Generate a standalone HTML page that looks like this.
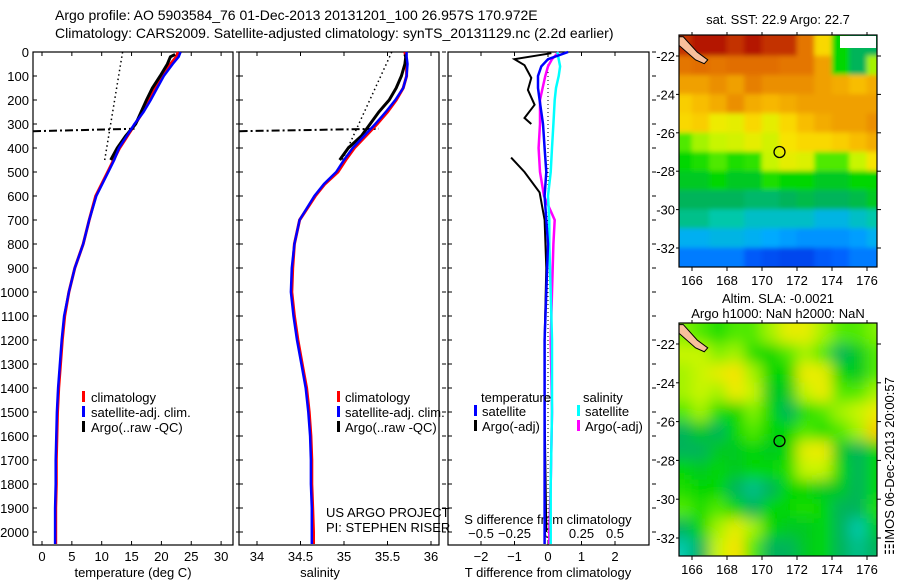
<!DOCTYPE html>
<html><head><meta charset="utf-8"><style>
body{margin:0;background:#fff}
svg text{font-family:"Liberation Sans",sans-serif;font-size:13px;fill:#000}
</style></head><body>
<svg id="c" width="900" height="580" xmlns="http://www.w3.org/2000/svg">
<defs>
<filter id="blurA" x="-10%" y="-10%" width="120%" height="120%"><feGaussianBlur stdDeviation="2.5"/></filter>
<filter id="blurB" x="-10%" y="-10%" width="120%" height="120%"><feGaussianBlur stdDeviation="7"/></filter>
</defs>
<text x="55" y="20" style="font-size:14px">Argo profile: AO 5903584_76 01-Dec-2013 20131201_100 26.957S 170.972E</text>
<text x="55" y="38" style="font-size:14px">Climatology: CARS2009. Satellite-adjusted climatology: synTS_20131129.nc (2.2d earlier)</text>
<text x="778" y="24" text-anchor="middle">sat. SST: 22.9 Argo: 22.7</text>
<text x="778" y="303" text-anchor="middle">Altim. SLA: -0.0021</text>
<text x="778" y="318" text-anchor="middle">Argo h1000: NaN h2000: NaN</text>
<text transform="translate(894,555) rotate(-90)">&#9783;IMOS 06-Dec-2013 20:00:57</text>
<g id="g"></g>
</svg>
<script>
// ---- data ----
const depthTicks=[0,100,200,300,400,500,600,700,800,900,1000,1100,1200,1300,1400,1500,1600,1700,1800,1900,2000];
const tTicks=[0,5,10,15,20,25,30];
const sTicks=[34,34.5,35,35.5,36];
const dTTicks=[-2,-1,0,1,2];
const dSTicks=[-0.5,-0.25,0,0.25,0.5];
const dSTickLabels=["\u22120.5","\u22120.25","0","0.25","0.5"];
const climDepth=[0,20,50,100,150,200,250,300,350,400,450,500,550,600,700,800,900,1000,1100,1200,1300,1400,1500,1600,1700,1800,1900,2000,2050];
const climT=[22.8,22.5,21.5,20.0,19.0,18.0,16.9,15.6,14.3,13.0,12.0,11.0,10.0,9.0,7.9,6.9,5.5,4.5,3.8,3.4,3.1,2.8,2.6,2.5,2.4,2.4,2.3,2.3,2.3];
const satT=[23.2,22.9,21.9,20.4,19.3,18.2,17.0,15.5,14.2,12.9,12.1,11.1,10.1,9.1,7.9,6.9,5.5,4.5,3.7,3.3,3.0,2.7,2.5,2.4,2.3,2.3,2.2,2.2,2.2];
const argoTDepth=[10,20,50,100,150,200,250,300,350,400,450];
const argoT=[22.3,21.5,21.0,19.8,18.5,17.5,16.6,15.7,14.0,12.6,11.5];
const climS=[35.70,35.71,35.72,35.72,35.68,35.6,35.5,35.38,35.25,35.12,35.02,34.93,34.78,34.67,34.49,34.43,34.41,34.40,34.43,34.47,34.52,34.57,34.60,34.62,34.63,34.63,34.64,34.65,34.65];
const satS=[35.72,35.72,35.73,35.72,35.68,35.59,35.48,35.36,35.23,35.10,35.0,34.91,34.77,34.66,34.49,34.43,34.40,34.39,34.42,34.46,34.51,34.56,34.59,34.61,34.62,34.62,34.63,34.63,34.63];
const argoS=[35.70,35.71,35.70,35.66,35.60,35.52,35.40,35.30,35.20,35.05,34.95];
const tDotDepth=[0,450];const tDotVal=[13.5,10.5];
const sDotDepth=[0,450];const sDotVal=[35.55,34.98];
const qcDepth=[330,320];const qcT=[-1.5,15.5];const qcS=[33.8,35.4];
const diffDepth=[0,30,60,100,150,200,300,400,500,600,700,800,1000,1200,1500,1800,2000,2050];
const satDT=[0.6,0.0,-0.2,-0.3,-0.3,-0.25,-0.15,-0.1,-0.05,-0.1,-0.05,0.0,-0.05,-0.1,-0.1,-0.1,-0.1,-0.1];
const satDS=[0.07,0.08,0.09,0.08,0.06,0.05,0.04,0.03,0.02,0.0,0.01,0.01,0.02,0.03,0.03,0.02,0.02,0.02];
const argoDS=[0.08,0.03,0.0,-0.02,-0.04,-0.06,-0.06,-0.07,-0.06,-0.03,0.05,0.04,0.03,0.02,0.03,0.02,0.01,0.01];
const argoDTDepth1=[5,30,55,108,158,220,275,300];
const argoDT1=[0.1,-1.0,-0.7,-0.5,-0.6,-0.4,-0.7,-0.5];
const argoDTDepth2=[440,500,585,700,900,1200,1500,2000];
const argoDT2=[-1.1,-0.7,-0.25,-0.1,-0.05,-0.1,-0.1,-0.05];
const mapLon0=165,mapLat0=-21;
const sstIdx=[
[.9,.92,.92,.9,.92,.9,.9,.85,.7,.5,.45,.45],
[.85,.86,.85,.86,.86,.86,.85,.85,.8,.5,.45,.6],
[.8,.8,.82,.8,.84,.82,.82,.82,.8,.78,.75,.78],
[.72,.75,.78,.82,.78,.76,.78,.8,.8,.8,.8,.8],
[.7,.72,.66,.65,.7,.65,.7,.75,.78,.8,.8,.82],
[.55,.6,.62,.63,.65,.63,.68,.7,.7,.72,.75,.78],
[.5,.52,.55,.52,.53,.62,.65,.64,.55,.55,.62,.68],
[.48,.48,.5,.48,.48,.52,.5,.5,.48,.48,.5,.5],
[.45,.45,.45,.45,.44,.44,.45,.46,.45,.45,.46,.48],
[.42,.42,.4,.4,.38,.38,.38,.38,.36,.36,.38,.4],
[.35,.35,.36,.36,.35,.34,.33,.32,.32,.32,.33,.35],
[.3,.3,.3,.3,.27,.26,.25,.25,.27,.28,.3,.3]];
const slaIdx=[
[.58,.55,.52,.55,.55,.6,.65,.65,.6,.55,.55,.58],
[.62,.62,.58,.6,.52,.5,.55,.6,.55,.45,.48,.55],
[.6,.62,.65,.68,.6,.5,.5,.66,.65,.5,.48,.55],
[.6,.62,.6,.66,.62,.48,.48,.62,.66,.55,.55,.6],
[.55,.6,.52,.5,.58,.5,.45,.52,.55,.6,.62,.66],
[.45,.48,.45,.5,.55,.5,.5,.55,.52,.55,.6,.72],
[.45,.45,.48,.48,.5,.48,.5,.65,.66,.48,.45,.5],
[.5,.48,.5,.48,.5,.5,.52,.62,.62,.5,.45,.5],
[.52,.5,.5,.45,.42,.45,.5,.5,.48,.48,.45,.5],
[.55,.52,.55,.5,.45,.5,.5,.52,.5,.45,.45,.52],
[.45,.5,.6,.65,.6,.5,.48,.48,.5,.45,.4,.48],
[.4,.45,.62,.68,.55,.45,.45,.48,.5,.45,.42,.45]];
const lonTicks=[166,168,170,172,174,176];
const latTicks=[-22,-24,-26,-28,-30,-32];
const argoLon=171,argoLat=-27;

// ---- helpers ----
const NS="http://www.w3.org/2000/svg";const G=document.getElementById('g');
function mk(t,a,p){const e=document.createElementNS(NS,t);for(const k in a)e.setAttribute(k,a[k]);(p||G).appendChild(e);return e;}
const PT=52,PB=545;
const yD=d=>PT+d*0.24;
const xT=v=>42+v*5.97;
const xS=v=>257+(v-34)*87;
const xDT=v=>548+v*33.5;
const xDS=v=>548+v*134;
function line(xs,ys,fx,fy,col,w,dash,name){
  const pts=xs.map((v,i)=>fx(v).toFixed(1)+','+fy(ys[i]).toFixed(1)).join(' ');
  const e=mk('polyline',{points:pts,fill:'none',stroke:col,'stroke-width':w});
  if(dash)e.setAttribute('stroke-dasharray',dash);
  
  
}
function txt(x,y,s,anchor,name){const e=mk('text',{x:x,y:y,'text-anchor':anchor||'start'});e.textContent=s;
  return e;}
function frame(x0,x1,name){const r=mk('rect',{x:x0,y:PT,width:x1-x0,height:PB-PT,fill:'none',stroke:'#000','stroke-width':1.2});
  
  depthTicks.forEach(d=>{mk('line',{x1:x0,x2:x0+4,y1:yD(d),y2:yD(d),stroke:'#000'});mk('line',{x1:x1+3,x2:x1+7,y1:yD(d),y2:yD(d),stroke:'#000'});});}
// panel 1
frame(33,233,'temperature-panel');
depthTicks.forEach(d=>txt(29,yD(d)+5,String(d),'end','depth-tick-label'));
tTicks.forEach(v=>{mk('line',{x1:xT(v),x2:xT(v),y1:PB,y2:PB-4,stroke:'#000'});mk('line',{x1:xT(v),x2:xT(v),y1:PT,y2:PT+4,stroke:'#000'});txt(xT(v),561,String(v),'middle','temperature-tick-label');});
txt(133,577,'temperature (deg C)','middle','temperature-axis-title');
line(tDotVal,tDotDepth,xT,yD,'#000',1.5,'1.5,3','temperature-dotted-line');
line(qcT,qcDepth,xT,yD,'#000',2,'8,3,2,3','temperature-qc-line');
line(climT,climDepth,xT,yD,'#f00',3,null,'temperature-climatology-line');
line(argoT,argoTDepth,xT,yD,'#000',3,null,'temperature-argo-line');
line(satT,climDepth,xT,yD,'#00f',2.5,null,'temperature-satellite-line');
// panel 2
frame(239,439,'salinity-panel');
sTicks.forEach(v=>{mk('line',{x1:xS(v),x2:xS(v),y1:PB,y2:PB-4,stroke:'#000'});mk('line',{x1:xS(v),x2:xS(v),y1:PT,y2:PT+4,stroke:'#000'});txt(xS(v),561,String(v),'middle','salinity-tick-label');});
txt(320,577,'salinity','middle','salinity-axis-title');
line(sDotVal,sDotDepth,xS,yD,'#000',1.5,'1.5,3','salinity-dotted-line');
line(qcS,qcDepth,xS,yD,'#000',2,'8,3,2,3','salinity-qc-line');
line(climS,climDepth,xS,yD,'#f00',3,null,'salinity-climatology-line');
line(argoS,argoTDepth,xS,yD,'#000',3,null,'salinity-argo-line');
line(satS,climDepth,xS,yD,'#00f',2.5,null,'salinity-satellite-line');
txt(326,517,'US ARGO PROJECT','start','project-label');
txt(326,532,'PI: STEPHEN RISER','start','pi-label');
// legends
[['#f00','climatology'],['#00f','satellite-adj. clim.'],['#000','Argo(..raw -QC)']].forEach((l,i)=>{
  mk('rect',{x:82,y:391+i*15,width:3,height:11,fill:l[0]});txt(91,402+i*15,l[1],'start','temperature-legend-entry');
  mk('rect',{x:337,y:391+i*15,width:3,height:11,fill:l[0]});txt(345,402+i*15,l[1],'start','salinity-legend-entry');});
// panel 3
frame(448,649,'difference-panel');
dTTicks.forEach(v=>{mk('line',{x1:xDT(v),x2:xDT(v),y1:PB,y2:PB-4,stroke:'#000'});mk('line',{x1:xDT(v),x2:xDT(v),y1:PT,y2:PT+4,stroke:'#000'});txt(xDT(v),561,v<0?'\u2212'+(-v):String(v),'middle','t-diff-tick-label');});
dSTicks.forEach((v,i)=>txt(xDS(v),538,dSTickLabels[i],'middle','s-diff-tick-label'));
txt(548,524,'S difference from climatology','middle','s-diff-axis-title');
txt(548,577,'T difference from climatology','middle','t-diff-axis-title');
mk('line',{x1:548,x2:548,y1:PT,y2:PB,stroke:'#000','stroke-dasharray':'1,3'});
line(argoDT1,argoDTDepth1,xDT,yD,'#000',2,null,'t-diff-argo-line-upper');
line(argoDT2,argoDTDepth2,xDT,yD,'#000',2,null,'t-diff-argo-line-lower');
line(argoDS,diffDepth,xDS,yD,'#f0f',2.5,null,'s-diff-argo-line');
line(satDS,diffDepth,xDS,yD,'#0ff',2.5,null,'s-diff-satellite-line');
line(satDT,diffDepth,xDT,yD,'#00f',2.5,null,'t-diff-satellite-line');
txt(481,402,'temperature','start','diff-legend-temperature-header');
txt(583,402,'salinity','start','diff-legend-salinity-header');
[['#00f',474,'satellite',416],['#000',474,'Argo(-adj)',431],['#0ff',577,'satellite',416],['#f0f',577,'Argo(-adj)',431]].forEach(l=>{
  mk('rect',{x:l[1],y:l[3]-11,width:3,height:11,fill:l[0]});txt(l[1]+8,l[3],l[2],'start','diff-legend-entry');});
// maps
const stops=[[.22,[0,40,220]],[.28,[0,100,255]],[.34,[0,170,255]],[.4,[0,200,170]],[.45,[0,180,90]],[.5,[0,215,0]],[.57,[110,240,0]],[.62,[200,245,0]],[.67,[248,232,0]],[.74,[250,195,0]],[.8,[240,160,0]],[.86,[225,110,0]],[.92,[180,20,0]]];
function cmap(v){if(v<=stops[0][0])return stops[0][1];for(let i=1;i<stops.length;i++){if(v<=stops[i][0]){const a=stops[i-1],b=stops[i],t=(v-a[0])/(b[0]-a[0]);return a[1].map((c,k)=>Math.round(c+(b[1][k]-c)*t));}}return stops[stops.length-1][1];}
function map(grid,x0,x1,y0,y1,latTop,latPerPx,name,id,blur){
  const lonScale=17.5,lon0=166,lonX=692;
  const fx=lon=>lonX+(lon-lon0)*lonScale;
  const fy=lat=>latTop+(-22-lat)*latPerPx;
  const cp=mk('clipPath',{id:id});mk('rect',{x:x0,y:y0,width:x1-x0,height:y1-y0},cp);
  const g=mk('g',{'clip-path':'url(#'+id+')'});
  
  const cells=mk('g',{filter:'url(#'+blur+')'},g);
  grid.forEach((row,r)=>row.forEach((v,c)=>{const col=cmap(v);
    const cell=mk('rect',{x:fx(mapLon0+c)-0.3,y:fy(mapLat0-r)-0.3,width:lonScale+0.6,height:latPerPx+0.6,fill:'rgb('+col.join(',')+')'},cells);
    
    }));
  // pad beyond edges so blur doesn't fade at borders
  grid.forEach((row,r)=>{const cl=cmap(row[0]);const cr=cmap(row[row.length-1]);
    mk('rect',{x:fx(mapLon0)-20,y:fy(mapLat0-r),width:20,height:latPerPx,fill:'rgb('+cl.join(',')+')'},cells);
    mk('rect',{x:fx(mapLon0+row.length),y:fy(mapLat0-r),width:20,height:latPerPx,fill:'rgb('+cr.join(',')+')'},cells);});
  grid[0].forEach((v,c)=>{mk('rect',{x:fx(mapLon0+c),y:fy(mapLat0)-20,width:lonScale,height:20,fill:'rgb('+cmap(v).join(',')+')'},cells);});
  grid[grid.length-1].forEach((v,c)=>{mk('rect',{x:fx(mapLon0+c),y:fy(mapLat0-grid.length),width:lonScale,height:20,fill:'rgb('+cmap(v).join(',')+')'},cells);});
  const land=mk('polygon',{points:[[165.2,-21.0],[165.5,-21.0],[166.3,-21.8],[166.9,-22.2],[166.7,-22.4],[166.2,-22.2],[165.2,-21.4]].map(p=>fx(p[0])+','+fy(p[1])).join(' '),fill:'#f8c09c',stroke:'#000','stroke-width':1},g);
  
  const fr=mk('rect',{x:x0,y:y0,width:x1-x0,height:y1-y0,fill:'none',stroke:'#000','stroke-width':1.2});
  
  lonTicks.forEach(l=>{mk('line',{x1:fx(l),x2:fx(l),y1:y1,y2:y1+4,stroke:'#000'});mk('line',{x1:fx(l),x2:fx(l),y1:y0,y2:y0-3,stroke:'#000'});txt(fx(l),y1+18,String(l),'middle','longitude-tick-label');});
  latTicks.forEach(l=>{mk('line',{x1:x0-3,x2:x0,y1:fy(l),y2:fy(l),stroke:'#000'});mk('line',{x1:x1,x2:x1+4,y1:fy(l),y2:fy(l),stroke:'#000'});txt(x0-4,fy(l)+5,String(l),'end','latitude-tick-label');});
  const c=mk('circle',{cx:fx(argoLon),cy:fy(argoLat),r:5.5,fill:'none',stroke:'#000','stroke-width':1.3});
  
}
map(sstIdx,679,877,35,267,56,19.2,'sst-map','clipA','blurA');
mk('rect',{x:840,y:36,width:36,height:12,fill:'#fff'});
map(slaIdx,679,877,323,556,344,19.4,'sla-map','clipB','blurB');
</script>
</body></html>
